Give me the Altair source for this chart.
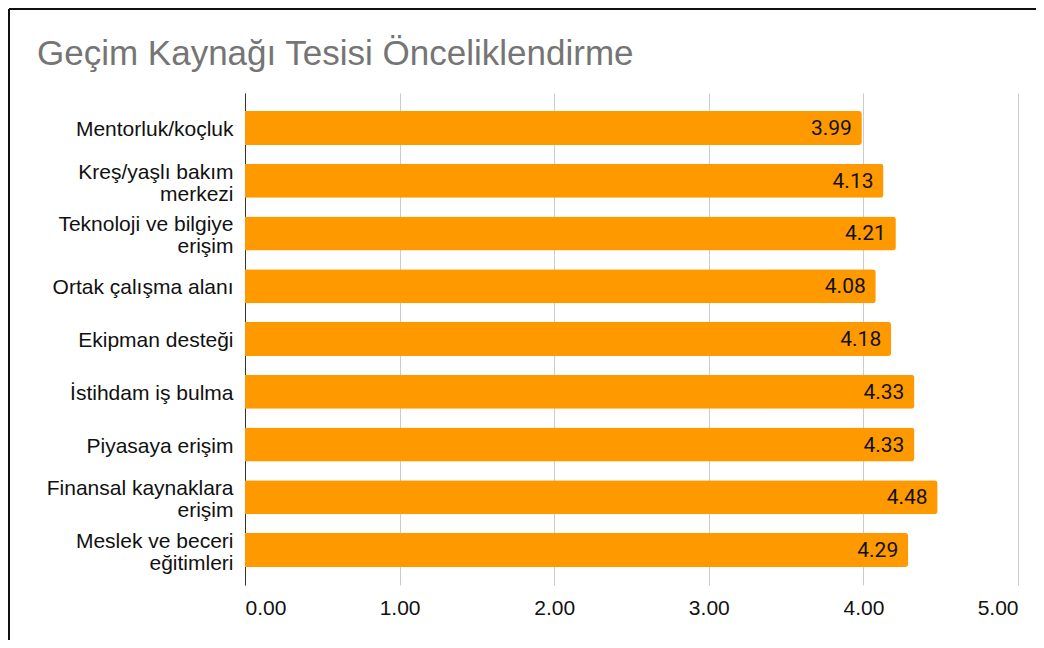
import altair as alt
import pandas as pd

categories = [
    "Mentorluk/koçluk",
    "Kreş/yaşlı bakım\nmerkezi",
    "Teknoloji ve bilgiye\nerişim",
    "Ortak çalışma alanı",
    "Ekipman desteği",
    "İstihdam iş bulma",
    "Piyasaya erişim",
    "Finansal kaynaklara\nerişim",
    "Meslek ve beceri\neğitimleri",
]
values = [3.99, 4.13, 4.21, 4.08, 4.18, 4.33, 4.33, 4.48, 4.29]
tick_values = [0, 1, 2, 3, 4, 5]
title_text = "Geçim Kaynağı Tesisi Önceliklendirme"

df = pd.DataFrame({"category": categories, "value": values})

W, H = 773, 492

y = alt.Y(
    "category:N",
    sort=categories,
    title=None,
    scale=alt.Scale(paddingInner=0.355, paddingOuter=0.341),
    axis=alt.Axis(
        labelExpr="split(datum.label, '\\n')",
        labelFont="Liberation Sans",
        labelFontSize=21,
        labelColor="#111111",
        labelLineHeight=22,
        labelPadding=12,
        labelLimit=400,
        labelOffset={"expr": "indexof(datum.label, '\\n') >= 0 ? -8 : 2"},
        ticks=False,
        domain=True,
        domainColor="#333333",
        domainWidth=1,
        grid=False,
    ),
)
x = alt.X(
    "value:Q",
    title=None,
    scale=alt.Scale(domain=[0, 5], nice=False),
    axis=alt.Axis(
        values=tick_values,
        format=".2f",
        grid=True,
        gridColor="#cccccc",
        domain=False,
        ticks=False,
        labelFont="Liberation Sans",
        labelFontSize=21,
        labelColor="#111111",
        labelPadding=12,
    ),
)

base = alt.Chart(df)
bars = base.mark_bar(color="#FF9900", cornerRadiusEnd=3).encode(x=x, y=y)
text = base.mark_text(
    align="right", baseline="middle", dx=-10, dy=1, font="Roboto", fontSize=21, color="#111111"
).encode(x=x, y=y, text=alt.Text("value:Q", format=".2f"))

one = pd.DataFrame({"k": [0]})
border_left = alt.Chart(one).mark_rule(color="#111111", strokeWidth=2).encode(
    x=alt.value(-236), y=alt.value(-84), y2=alt.value(H + 55)
)
border_top = alt.Chart(one).mark_rule(color="#111111", strokeWidth=2).encode(
    x=alt.value(-236), x2=alt.value(W + 18), y=alt.value(-84)
)
title = alt.Chart(pd.DataFrame({"t": [title_text]})).mark_text(
    align="left",
    baseline="alphabetic",
    font="Liberation Sans",
    fontSize=35,
    color="#757575",
).encode(x=alt.value(-208), y=alt.value(-28), text="t:N")

chart = (
    alt.layer(bars, text, border_left, border_top, title)
    .properties(
        width=W,
        height=H,
        padding={"left": 237, "top": 85, "right": 18, "bottom": 55},
        autosize=alt.AutoSizeParams(type="none"),
    )
    .configure_view(stroke=None)
)

chart.save("out.html", embed_options={"renderer": "svg", "actions": False})
